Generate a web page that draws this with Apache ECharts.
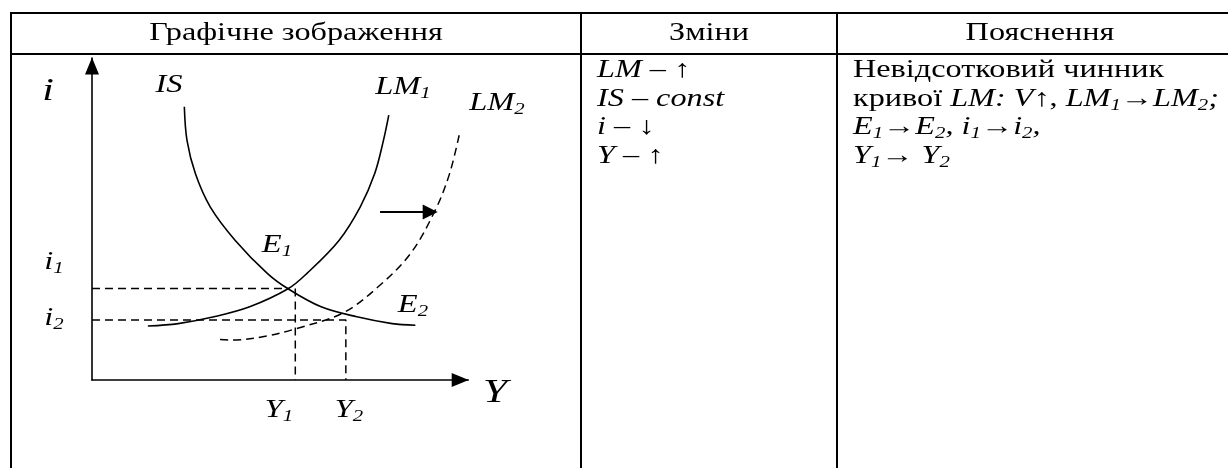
<!DOCTYPE html>
<html><head><meta charset="utf-8">
<script src="https://cdn.jsdelivr.net/npm/echarts@6/dist/echarts.min.js"></script>
<style>html,body{margin:0;padding:0;background:#fff}#c{width:1228px;height:468px}</style>
</head><body><div id="c"></div>
<script>
// ---- data (abstract units: Y = output, i = interest rate) ----
const IS_Y  = [24.3, 25.0, 27.2, 31.1, 37.7, 46.2, 51.6, 60.3, 69.7, 79.0, 85.1];
const IS_I  = [68.3, 59.9, 51.6, 43.3, 34.9, 26.6, 22.8, 18.3, 15.8, 14.1, 13.7];
const LM1_Y = [14.7, 22.7, 32.1, 41.5, 51.6, 56.5, 65.0, 70.6, 74.4, 76.7, 78.1];
const LM1_I = [13.5, 14.1, 15.8, 18.3, 22.8, 26.6, 34.9, 43.3, 51.6, 59.9, 66.2];
const LM2_Y = [33.7, 37.1, 46.0, 53.4, 66.1, 75.3, 83.8, 90.3, 94.1, 96.9];
const LM2_I = [10.1, 10.0, 11.0, 12.75, 16.8, 23.3, 31.6, 42.4, 51.6, 62.4];
const E1 = [51.8, 22.9];
const I1 = 22.9, I2 = 15.0;
const Y1 = 53.5, Y2 = 66.8;
const SHIFT_FROM = [75.8, 42], SHIFT_TO = [89.0, 42];
const X_MAX = 99, I_MAX = 80.5;

const headers = ['Графічне зображення', 'Зміни', 'Пояснення'];

const zip = (a, b) => a.map((v, k) => [v, b[k]]);
const serif = '"Liberation Serif","Times New Roman",serif';
const SX = 1.3; // the reference type is horizontally wide

const chart = echarts.init(document.getElementById('c'), null, {renderer: 'canvas'});

const solid = {color: '#000', width: 1.6};
const dash = {color: '#000', width: 1.5, type: [8, 5]};

function lbl(x, y, text, size) {
  const sub = Math.round(size * 0.64);
  return {
    type: 'text', x: x, y: y, z: 50, scaleX: SX,
    style: {
      text: text, fill: '#000', align: 'center', verticalAlign: 'middle',
      font: 'italic ' + size + 'px ' + serif,
      rich: {
        m: {fontFamily: serif, fontStyle: 'italic', fontSize: size, padding: [0, 0, 2, 0], verticalAlign: 'bottom'},
        s: {fontFamily: serif, fontStyle: 'italic', fontSize: sub, verticalAlign: 'bottom'}
      }
    }
  };
}
const BODY = 24.8;
const richBody = {
  n: {fontFamily: serif, fontSize: BODY, padding: [0, 0, 2, 0], verticalAlign: 'bottom'},
  i: {fontFamily: serif, fontStyle: 'italic', fontSize: BODY, padding: [0, 0, 2, 0], verticalAlign: 'bottom'},
  s: {fontFamily: serif, fontStyle: 'italic', fontSize: 16, verticalAlign: 'bottom'}
};
function body(x, y, text, align) {
  return {type: 'text', x: x, y: y, z: 50, scaleX: SX,
    style: {text: text, fill: '#000', align: align || 'left', verticalAlign: 'middle',
      font: BODY + 'px ' + serif, rich: richBody}};
}
function hline(x1, x2, y) { return {type: 'line', z: 40, shape: {x1: x1, y1: y, x2: x2, y2: y}, style: {stroke: '#000', lineWidth: 2}}; }
function vline(x, y1, y2) { return {type: 'line', z: 40, shape: {x1: x, y1: y1, x2: x, y2: y2}, style: {stroke: '#000', lineWidth: 2}}; }

const graphics = [
  hline(10, 1228, 13), hline(10, 1228, 54),
  vline(11, 12, 468), vline(581, 12, 468), vline(837, 12, 468),
  body(296, 34, '{n|' + headers[0] + '}', 'center'),
  body(709, 34, '{n|' + headers[1] + '}', 'center'),
  body(1040, 34, '{n|' + headers[2] + '}', 'center'),
  body(597, 71.5, '{i|LM}{n| – ↑}'),
  body(597, 100, '{i|IS – const}'),
  body(597, 128.5, '{i|i}{n| – ↓}'),
  body(597, 157, '{i|Y}{n| – ↑}'),
  body(853, 71.5, '{n|Невідсотковий чинник}'),
  body(853, 100, '{n|кривої }{i|LM: V}{n|↑, }{i|LM}{s|1}{n|→}{i|LM}{s|2}{i|;}'),
  body(853, 128.5, '{i|E}{s|1}{n|→}{i|E}{s|2}{i|, i}{s|1}{n|→}{i|i}{s|2}{i|,}'),
  body(853, 157, '{i|Y}{s|1}{n|→ }{i|Y}{s|2}'),
  lbl(48, 93, '{m|i}', 32),
  lbl(169, 86, '{m|IS}', 25),
  lbl(403, 88, '{m|LM}{s|1}', 25),
  lbl(497, 104, '{m|LM}{s|2}', 25),
  lbl(277, 246, '{m|E}{s|1}', 25),
  lbl(413, 306, '{m|E}{s|2}', 25),
  lbl(54, 263, '{m|i}{s|1}', 25),
  lbl(54, 319, '{m|i}{s|2}', 25),
  lbl(279, 411, '{m|Y}{s|1}', 25),
  lbl(349, 411, '{m|Y}{s|2}', 25),
  lbl(495, 394, '{m|Y}', 34)
];

chart.setOption({
  animation: false,
  backgroundColor: '#fff',
  grid: {left: 92, top: 58, width: X_MAX * 3.8, height: I_MAX * 4, containLabel: false},
  xAxis: {type: 'value', min: 0, max: X_MAX,
    axisLine: {show: true, onZero: false, symbol: ['none', 'triangle'], symbolSize: [14, 17], symbolOffset: [0, -8],
      lineStyle: {color: '#000', width: 1.6}},
    axisTick: {show: false}, axisLabel: {show: false}, splitLine: {show: false}},
  yAxis: {type: 'value', min: 0, max: I_MAX,
    axisLine: {show: true, onZero: false, symbol: ['none', 'triangle'], symbolSize: [14, 17], symbolOffset: [0, -8],
      lineStyle: {color: '#000', width: 1.6}},
    axisTick: {show: false}, axisLabel: {show: false}, splitLine: {show: false}},
  series: [
    {name: 'IS', type: 'line', data: zip(IS_Y, IS_I), smooth: 0.35, symbol: 'none', lineStyle: solid, z: 5},
    {name: 'LM1', type: 'line', data: zip(LM1_Y, LM1_I), smooth: 0.35, symbol: 'none', lineStyle: solid, z: 5},
    {name: 'LM2', type: 'line', data: zip(LM2_Y, LM2_I), smooth: 0.35, symbol: 'none', lineStyle: dash, z: 5},
    {name: 'i1', type: 'line', data: [[0, I1], [E1[0], I1]], symbol: 'none', lineStyle: dash, z: 4},
    {name: 'Y1', type: 'line', data: [[Y1, I1], [Y1, 0]], symbol: 'none', lineStyle: dash, z: 4},
    {name: 'i2Y2', type: 'line', data: [[0, I2], [Y2, I2], [Y2, 0]], symbol: 'none', lineStyle: dash, z: 4},
    {name: 'shift', type: 'lines', coordinateSystem: 'cartesian2d', polyline: false,
      symbol: ['none', 'triangle'], symbolSize: 15,
      lineStyle: {color: '#000', width: 1.8, opacity: 1, curveness: 0},
      data: [{coords: [SHIFT_FROM, SHIFT_TO]}], z: 6}
  ],
  graphic: graphics
});
</script>
</body></html>
